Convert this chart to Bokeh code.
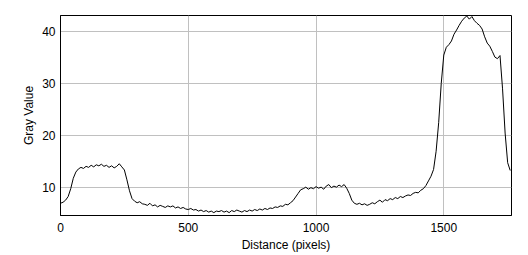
from bokeh.plotting import figure
from bokeh.models import FixedTicker, Range1d
from bokeh.embed import file_html
from bokeh.resources import INLINE

distance = list(range(0, 1770, 10))
gray = [
    7.0, 7.2, 7.6, 8.3, 9.8, 11.8, 13.0, 13.6, 13.9, 13.7,
    14.1, 13.9, 14.3, 14.0, 14.4, 14.2, 14.5, 14.1, 14.3, 13.9,
    14.2, 13.8, 14.1, 14.6, 14.0, 13.4, 11.5, 9.4, 7.9, 7.4,
    7.1, 7.3, 6.9, 6.8, 6.6, 7.0, 6.5, 6.7, 6.3, 6.6,
    6.4, 6.2, 6.5, 6.3, 6.5, 6.1, 6.3, 6.0, 6.2, 5.9,
    5.8, 6.0, 5.7, 5.8, 5.5, 5.7, 5.4, 5.6, 5.3, 5.5,
    5.2, 5.5, 5.4, 5.6, 5.3, 5.5, 5.2, 5.6, 5.4, 5.7,
    5.5, 5.3, 5.6, 5.4, 5.7, 5.5, 5.8, 5.6, 5.9, 5.7,
    6.0, 5.8, 6.1, 6.0, 6.3, 6.2, 6.5, 6.4, 6.8, 6.7,
    7.1, 7.5, 8.2, 8.9, 9.6, 9.8, 10.1, 9.7, 10.0, 9.8,
    10.2, 9.9, 10.1, 9.7, 10.3, 10.6, 10.0, 10.3, 10.1, 10.5,
    10.2, 10.6, 9.9, 8.9, 7.6, 7.0, 6.8, 7.0, 6.7, 6.9,
    6.6, 6.8, 7.1, 6.9, 7.3, 7.6, 7.2, 7.7, 7.5, 7.9,
    7.7, 8.1, 7.9, 8.3, 8.1, 8.4, 8.6, 8.5, 8.9, 9.1,
    9.0, 9.5, 9.8, 10.4, 11.3, 12.2, 13.5, 17.0, 22.5, 30.0,
    35.5, 37.0, 37.5, 38.2, 39.5, 40.3, 41.2, 42.0, 42.6, 43.0,
    42.4, 42.9, 42.1, 41.6, 41.2, 40.5, 39.0, 37.8, 37.2, 36.2,
    35.1, 34.8, 35.4, 29.0, 20.5, 14.8, 13.3,
]
x_ticks = [0, 500, 1000, 1500]
y_ticks = [10, 20, 30, 40]

p = figure(width=528, height=255, output_backend="svg", toolbar_location=None,
           x_range=Range1d(0, 1765), y_range=Range1d(4.65, 43.1),
           min_border_left=60, min_border_right=17, min_border_top=15, min_border_bottom=40)
p.line(distance, gray, line_color="black", line_width=1)

font = "Liberation Sans"
p.xaxis.ticker = FixedTicker(ticks=x_ticks)
p.yaxis.ticker = FixedTicker(ticks=y_ticks)
p.xaxis.axis_label = "Distance (pixels)"
p.yaxis.axis_label = "Gray Value"
for ax in (p.xaxis, p.yaxis):
    ax.axis_label_text_font = font
    ax.axis_label_text_font_size = "12px"
    ax.axis_label_text_font_style = "normal"
    ax.axis_label_text_color = "black"
    ax.major_label_text_font = font
    ax.major_label_text_font_size = "12px"
    ax.major_label_text_color = "black"
    ax.major_tick_out = 0
    ax.major_tick_in = 0
    ax.minor_tick_out = 0
    ax.minor_tick_in = 0
    ax.axis_line_color = "black"
p.xaxis.major_label_standoff = 7
p.xaxis.axis_label_standoff = 3
p.yaxis.major_label_standoff = 5
p.yaxis.axis_label_standoff = 3

p.xgrid.ticker = FixedTicker(ticks=x_ticks)
p.ygrid.ticker = FixedTicker(ticks=y_ticks)
p.grid.grid_line_color = "#c0c0c0"
p.grid.grid_line_width = 1
p.outline_line_color = "black"
p.outline_line_alpha = 1
p.background_fill_color = "white"
p.border_fill_color = "white"

open("out.html", "w").write(file_html(p, INLINE))
